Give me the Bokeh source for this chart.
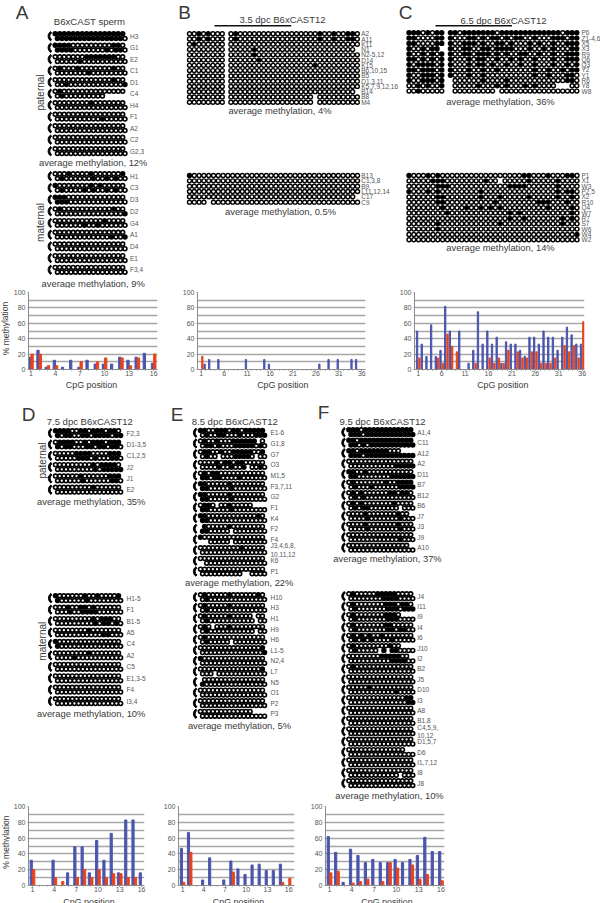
from bokeh.plotting import figure
from bokeh.layouts import column, row
from bokeh.models import Range1d, FixedTicker, ColumnDataSource
from bokeh.core.properties import value
from bokeh.transform import dodge
from bokeh.embed import file_html
from bokeh.resources import INLINE

# ---------- methylation bars (% methylated per CpG) ----------
A_blue = [16,25,3,12,3,12,3,12,7,7,7,16,12,16,21,8]
A_red = [20,20,5,5,0,0,10,0,10,15,0,15,5,15,0,20]
B_blue = [0,7,13,0,13,0,0,0,0,0,13,0,0,0,13,7,0,0,0,0,0,0,0,0,0,0,7,0,13,0,13,0,0,13,13,0]
B_red = [17]+[0]*35
C_blue = [50,33,17,58,17,25,82,50,0,50,0,8,25,75,33,50,33,42,8,36,33,33,25,17,42,42,33,50,42,42,25,42,55,45,33,33]
C_red = [15,0,0,0,15,8,46,30,23,0,0,0,8,0,0,15,8,15,8,25,0,23,15,15,23,23,8,8,8,15,0,31,23,31,15,62]
D_blue = [32,0,0,32,0,16,49,49,16,57,32,66,16,83,83,16]
D_red = [20,0,0,10,5,0,10,20,10,20,10,15,15,10,10,0]
E_blue = [47,67,0,7,35,0,7,31,21,14,26,27,19,19,27,0]
E_red = [4,42,0,0,0,0,0,17,0,0,0,0,0,0,4,9]
F_blue = [62,42,4,46,38,29,33,29,29,33,29,33,38,61,43,43]
F_red = [16,18,0,3,5,8,0,5,29,22,0,26,8,14,0,6]
CATS16 = list(range(1,17))
CATS36 = list(range(1,37))
TICKS16 = [1,4,7,10,13,16]
TICKS36 = [1,6,11,16,21,26,31,36]
Y_TICKS = [0,20,40,60,80,100]
GRID_TICKS = [0,10,20,30,40,50,60,70,80,90,100]

# ---------- clone labels ----------
A_pat_lab = ["H3","G1","E2","C1","D1","C4","H4","F1","A2","C2","G2,3"]
A_mat_lab = ["H1","C3","D3","D2","G4","A1","D4","E1","F3,4"]
B_pat_lab = ["A2","A11","K11","N1","N2-5,12","D14","K15","B6,10,15","B5","D1,3,11","K5,7,9,12,16","B14","B8","M4"]
B_mat_lab = ["B13","C1,3,8","B9","L11,12,14","C17","C9"]
C_pat_lab = ["P6","Z1-4,6","X5","X3","R9","Q6","Q3","Y2","Y1","R6","Y8","W8"]
C_mat_lab = ["P1","X1","W3","P2,5","X2","R10","Q4","W7","R7","S7","W6","W4","W2"]
D_pat_lab = ["F2,3","D1-3,5","C1,2,5","J2","J1","E2"]
D_mat_lab = ["H1-5","F1","B1-5","A5","C4","A2","C5","E1,3-5","F4","I3,4"]
E_pat_lab = ["E1-6","G1,8","G7","O3","M1,5","F3,7,11","G2","F1","K4","F2","F4","J3,4,6,8,\n10,11,12","K6","P1"]
E_mat_lab = ["H10","H3","H1","H9","H6","L1-5","N2,4","L7","N5","O1","P2","P3"]
F_pat_lab = ["A1,4","C11","A12","A2","D11","B7","B12","B6","J7","J3","J9","A10"]
F_mat_lab = ["J4","I11","I9","I4","I6","J10","I2","B2","J5","D10","I3","A8","B1,8","C4,5,9,\n10,12","D1,5,7","D6","I1,7,12","I8","J8"]

# ---------- filled CpGs per clone; 16-CpG panels: hex digit = CpG index, two strand lines ----------
A_pat_top = ["0123456789abcdef","0123de","789abcd","15d","d","1","8","","","",""]
A_pat_bot = ["0123456789abcde","0123bde","5","7","2f","1","","a","","",""]
A_pat_gap = [(5,1,11),(5,1,12),(5,1,13),(5,1,14),(5,1,15)]
A_mat_top = ["38f","08a","012","1d","b","","","",""]
A_mat_bot = ["18bd","168bd","012","f","69","cf","","",""]
D_pat_top = ["012367 9abde","123479abdef","5678def","9bcde","6def","9"]
D_pat_bot = ["023679abcef","02378abde","5679de","9bcdef","6de",""]
D_mat_top = ["07af","3679","9bcd","8","0","8","","","",""]
D_mat_bot = ["07","36789","9bce","bc","0","4","","","",""]
E_pat_top = ["0145689bcdef","1489abcde","12589abcf","4679a","134","017","017","127","01e","17","0","a","",""]
E_pat_bot = ["1459def","12489abce","189ab","47ae","01349","017","017","017","01","01","","","",""]
E_pat_gap = [(1,0,14),(2,1,4),(2,1,13),(3,1,11),(7,0,4),(7,0,13),(7,0,14),(7,0,15),(9,0,0),(9,1,7),(10,1,0),(10,1,1),(10,1,7),(12,1,0),(13,1,10),(13,1,11)]
E_mat_top = ["17e","17","17","17","1","f","0","f","","","",""]
E_mat_bot = ["1","1","1","1","1","f","","","0","","",""]
E_mat_gap = [(2,0,13),(2,1,13),(3,0,3),(3,1,13),(4,1,7),(7,1,3),(8,0,0),(11,0,13),(11,0,14),(11,0,15)]
F_pat_top = ["012456789abcdef","013456789abcdef","013456789","","014","19cdef","13abde","13b","4c","4c","",""]
F_pat_bot = ["012456789abcdef","01356789abcdef","012456789abcdef","bcdef","01abcdef","15cdef","13","134","4c","4c","c",""]
F_pat_gap = [(2,0,13),(2,0,14),(2,0,15),(7,1,12),(8,0,15),(11,0,15)]
F_mat_top = ["1789ab","19abde","19ab","19a","1358","1a","89abc","1","","5","ef","","","","","","","",""]
F_mat_bot = ["89ab","19abdef","19ab","19acd","135a","18ab","abcd","","","b","ef","","","","","","","",""]
F_mat_gap = [(2,0,13),(2,0,14),(2,0,15),(5,1,7),(5,1,9),(5,0,13),(5,0,14),(5,0,15),(6,0,15),(15,0,14),(15,0,15),(17,1,12)]

# 36-CpG panels: one line per clone, filled CpG indices
B_pat_fill = [[2,4,9,27,30,33,34],[2,4,9,27,30,33,34],[1],[13],[13],[14],[26],[],[],[],[],[],[],[]]
B_pat_gap = [(3,35),(11,35),(12,26),(13,26)]
B_mat_fill = [[0],[],[],[],[],[]]
B_mat_gap = [(5,4),(4,35)]
C_pat_rows = [
 "111010111101111111011111111111110111",
 "110000111000110101101011001000111011",
 "110000111001110100110100010100100111",
 "10010110"+"1001100110111100010010100011",
 "100101011001101110101001100100100111",
 "110101011000101100100101001000100111",
 "101111011000101101001001001000100101",
 "110111011000100100100000001001001011",
 "100111011000100100000000001001000110",
 "100111010000000100001000000000000110",
 "001010010000001000101000101000000000",
 "001000000000000000000000000000000000",
]
C_pat_gap = [(3,7),(9,8),(10,8),(11,8),(10,31),(10,32),(10,33),(11,18)]
C_mat_fill = [[0,4,6,24,25,29,33,34],[5,6,7,16,25,31],[6,7,8,21,22,23,24,31],[0,4,6,15,31,33,34],[6,7,15,19,25,31,34],
              [6,7,18,27,28,29,33],[7,12,15,17,19,29,34],[8,21,23,34],[21,24,32,34],[6,19,32],[6],[35],[]]
C_mat_gap = [(1,19)]

BLUE = "#4a55ad"
RED = "#e8431c"
FONT = "Liberation Sans"
INK = "#3a3a3a"
SMALL = "#555555"
GRIDC = "#a6a6a6"


def sheet(y_top, y_bot, x0=0, x1=600):
    p = figure(width=x1 - x0, height=y_bot - y_top, x_range=Range1d(x0, x1), y_range=Range1d(y_bot, y_top),
               x_axis_type=None, y_axis_type=None, toolbar_location=None, output_backend="svg", min_border=0)
    p.grid.visible = False
    p.outline_line_color = None
    return p


def note(p, x, y, s, size, color=INK, angle=0, align="center"):
    p.text(x=[x], y=[y], text=[s], angle=[angle], text_font=value(FONT), text_font_size=value(size),
           text_color=color, text_align=align, text_baseline="middle")


def dots(p, xs, ys, filled, size, hole):
    p.scatter(x=xs, y=ys, size=size, marker="circle", fill_color="black", line_color=None)
    hx = [x for x, f in zip(xs, filled) if not f]
    hy = [y for y, f in zip(ys, filled) if not f]
    p.scatter(x=hx, y=hy, size=hole, marker="circle", fill_color="white", line_color=None)


def clone_labels(p, x, ys, labels):
    p.text(x=[x] * len(labels), y=ys, text=labels, text_font=value(FONT), text_font_size=value("6.5px"),
           text_color=SMALL, text_align="left", text_baseline="middle")


def block16(p, x0, y0, dx, dy, labels, top, bot, gaps=(), lab_x=None, n=16):
    xs, ys, fs = [], [], []
    gaps = set(gaps)
    for r in range(len(labels)):
        yc = y0 + r * dy
        for line, spec in enumerate((top[r], bot[r])):
            for c in range(n):
                if (r, line, c) in gaps:
                    continue
                xs.append(x0 + c * dx + line * dx / 2)
                ys.append(yc + (line - 0.5) * 4.7)
                fs.append(format(c, "x") in spec)
    dots(p, xs, ys, fs, 5.5, 2.3)
    ry = [y0 + r * dy for r in range(len(labels))]
    p.annular_wedge(x=[x0 - 1.5] * len(labels), y=ry, inner_radius=3.9, outer_radius=5.6,
                    start_angle=2.15, end_angle=4.13, color="black")
    clone_labels(p, lab_x, ry, labels)


def block36(p, x0, y0, dx, dy, labels, fill, gaps=(), split=None, lab_x=None, n=36):
    xs, ys, fs = [], [], []
    gaps = set(gaps)
    for r in range(len(labels)):
        for c in range(n):
            if (r, c) in gaps:
                continue
            xs.append(x0 + c * dx + (4 if split is not None and c >= split else 0))
            ys.append(y0 + r * dy)
            spec = fill[r]
            fs.append(spec[c] == "1" if isinstance(spec, str) else c in spec)
    dots(p, xs, ys, fs, 5.4, 2.5)
    clone_labels(p, lab_x, [y0 + r * dy for r in range(len(labels))], labels)


def bars(w, h, left, right, top, bottom, lo, hi, cats, blue, red, ticks, d, bw):
    p = figure(width=w, height=h, x_range=Range1d(lo, hi), y_range=Range1d(0, 100), toolbar_location=None,
               output_backend="svg", min_border_left=left, min_border_right=right, min_border_top=top,
               min_border_bottom=bottom)
    p.outline_line_color = None
    p.xgrid.visible = False
    p.ygrid.ticker = FixedTicker(ticks=GRID_TICKS)
    p.ygrid.grid_line_color = GRIDC
    p.ygrid.grid_line_width = 1.4
    src = ColumnDataSource(dict(cat=cats, blue=blue, red=red))
    p.vbar(x=dodge("cat", -d, range=p.x_range), top="blue", width=bw, color=BLUE, source=src)
    p.vbar(x=dodge("cat", d, range=p.x_range), top="red", width=bw, color=RED, source=src)
    p.xaxis.ticker = FixedTicker(ticks=ticks, minor_ticks=cats)
    p.yaxis.ticker = FixedTicker(ticks=Y_TICKS)
    for ax in (p.xaxis[0], p.yaxis[0]):
        ax.axis_line_color = "#8c8c8c"
        ax.major_tick_line_color = "#8c8c8c"
        ax.minor_tick_line_color = "#8c8c8c"
        ax.major_tick_in = 0
        ax.major_tick_out = 1
        ax.minor_tick_in = 0
        ax.minor_tick_out = 1
        ax.major_label_text_font = FONT
        ax.major_label_text_font_size = "7px"
        ax.major_label_text_color = SMALL
        ax.major_label_standoff = 0
    p.yaxis[0].minor_tick_out = 0
    p.yaxis[0].major_label_standoff = 2
    return p


# ---------- top sheet: panels A, B, C ----------
top = sheet(0, 288)
note(top, 21.5, 12, "A", "19px")
note(top, 184, 12, "B", "19px")
note(top, 405, 12, "C", "19px")
note(top, 89, 21, "B6xCAST sperm", "9.6px")
note(top, 282, 18.5, "3.5 dpc B6xCAST12", "9.5px")
note(top, 503, 19.5, "6.5 dpc B6xCAST12", "9.5px")
top.segment(x0=[214, 435], y0=[25.3, 25.3], x1=[290.7, 511.5], y1=[25.3, 25.3], line_color="#111111", line_width=1.5)
note(top, 40, 92, "paternal", "10px", angle=1.5708)
note(top, 40, 222, "maternal", "10px", angle=1.5708)
block16(top, 54.7, 35.7, 4.5, 11.5, A_pat_lab, A_pat_top, A_pat_bot, A_pat_gap, lab_x=129.5)
block16(top, 54.7, 175.7, 4.5, 11.7, A_mat_lab, A_mat_top, A_mat_bot, lab_x=129.5)
note(top, 92.7, 162, "average methylation, 12%", "9.4px")
note(top, 92.7, 283, "average methylation, 9%", "9.4px")
block36(top, 189, 33.3, 4.68, 5.26, B_pat_lab, B_pat_fill, B_pat_gap, split=8, lab_x=360.7)
block36(top, 189, 175, 4.8, 5.33, B_mat_lab, B_mat_fill, B_mat_gap, lab_x=360.7)
note(top, 279.5, 110, "average methylation, 4%", "9.4px")
note(top, 280, 210.7, "average methylation, 0.5%", "9.4px")
block36(top, 408.5, 32.3, 4.68, 5.3, C_pat_lab, C_pat_rows, C_pat_gap, split=8, lab_x=581)
block36(top, 408.5, 175, 4.8, 5.36, C_mat_lab, C_mat_fill, C_mat_gap, lab_x=581)
note(top, 500, 100.5, "average methylation, 36%", "9.4px")
note(top, 500, 247, "average methylation, 14%", "9.4px")

# ---------- first row of bars ----------
ylab1 = sheet(288, 380, 0, 10)
note(ylab1, 5, 331, "% methylation", "8.5px", angle=1.5708)
barA = bars(160, 92, 15, 13, 4, 11, 0.7, 16.47, CATS16, A_blue, A_red, TICKS16, 0.14, 0.28)
barB = bars(226, 92, 27, 31, 4, 11, 0.2, 36.8, CATS36, B_blue, B_red, TICKS36, 0.25, 0.28)
barC = bars(204, 92, 18, 16, 4, 11, 0.2, 36.5, CATS36, C_blue, C_red, TICKS36, 0.25, 0.28)
cpg1 = sheet(380, 392)
note(cpg1, 91, 384.5, "CpG position", "8.9px")
note(cpg1, 282.3, 384.5, "CpG position", "8.9px")
note(cpg1, 502.3, 384.5, "CpG position", "8.9px")

# ---------- middle sheet: panels D, E, F ----------
mid = sheet(392, 801)
note(mid, 28, 413.5, "D", "19px")
note(mid, 176.5, 413.5, "E", "19px")
note(mid, 323, 411.5, "F", "19px")
note(mid, 89.3, 421, "7.5 dpc B6xCAST12", "9.5px")
note(mid, 234.3, 421, "8.5 dpc B6xCAST12", "9.5px")
note(mid, 382, 421, "9.5 dpc B6xCAST12", "9.5px")
note(mid, 41.7, 460, "paternal", "10px", angle=1.5708)
note(mid, 41.7, 640.7, "maternal", "10px", angle=1.5708)
block16(mid, 55, 432.7, 4.2, 11.3, D_pat_lab, D_pat_top, D_pat_bot, lab_x=126)
block16(mid, 55, 597.7, 4.2, 11.44, D_mat_lab, D_mat_top, D_mat_bot, lab_x=126)
note(mid, 90.7, 501, "average methylation, 35%", "9.4px")
note(mid, 90.7, 712.7, "average methylation, 10%", "9.4px")
block16(mid, 200, 432.3, 4.13, 10.67, E_pat_lab, E_pat_top, E_pat_bot, E_pat_gap, lab_x=270)
block16(mid, 200, 596.7, 4.13, 10.6, E_mat_lab, E_mat_top, E_mat_bot, E_mat_gap, lab_x=270)
note(mid, 238.7, 582, "average methylation, 22%", "9.4px")
note(mid, 239, 725, "average methylation, 5%", "9.4px")
block16(mid, 348.4, 431.7, 4.12, 10.5, F_pat_lab, F_pat_top, F_pat_bot, F_pat_gap, lab_x=416.7)
block16(mid, 348.4, 595.7, 4.12, 10.39, F_mat_lab, F_mat_top, F_mat_bot, F_mat_gap, lab_x=416.7)
note(mid, 387, 558, "average methylation, 37%", "9.4px")
note(mid, 389, 795, "average methylation, 10%", "9.4px")

# ---------- second row of bars ----------
ylab2 = sheet(801, 894, 0, 10)
note(ylab2, 5.5, 843, "% methylation", "8.5px", angle=1.5708)
barD = bars(150, 93, 18, 16, 5, 9, 0.45, 16.41, CATS16, D_blue, D_red, TICKS16, 0.17, 0.3)
barE = bars(140, 93, 16, 6, 5, 9, 0.42, 16.83, CATS16, E_blue, E_red, TICKS16, 0.17, 0.3)
barF = bars(300, 93, 25, 156, 5, 9, 0.46, 16.48, CATS16, F_blue, F_red, TICKS16, 0.17, 0.3)
cpg2 = sheet(894, 903)
note(cpg2, 88.5, 898.5, "CpG position", "8.9px")
note(cpg2, 238, 898.5, "CpG position", "8.9px")
note(cpg2, 386.5, 898.5, "CpG position", "8.9px")

page = column(top, row(ylab1, barA, barB, barC, spacing=0), cpg1, mid, row(ylab2, barD, barE, barF, spacing=0), cpg2,
              spacing=0)
open("out.html", "w").write(file_html(page, INLINE))
